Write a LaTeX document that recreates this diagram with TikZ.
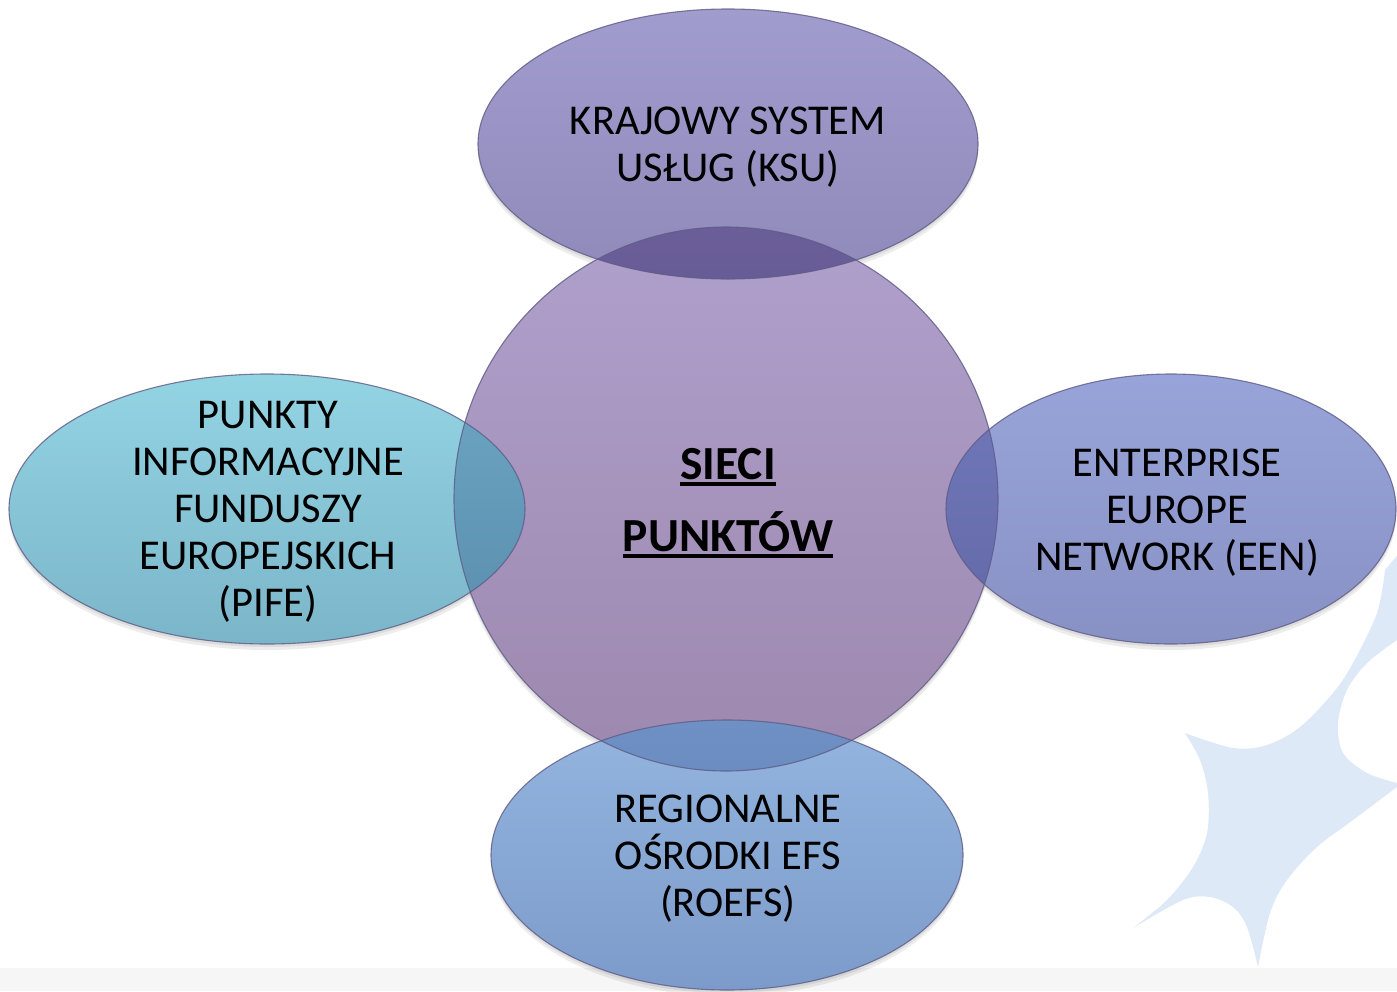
\documentclass[tikz,border=0pt]{standalone}
\usepackage{fontspec}
\setmainfont{Carlito}
\definecolor{topA}{HTML}{A19CCE}
\definecolor{topB}{HTML}{8F8AB9}
\definecolor{cenA}{HTML}{AFA0CC}
\definecolor{cenB}{HTML}{9D88AE}
\definecolor{lefA}{HTML}{93D4E3}
\definecolor{lefB}{HTML}{7BB5C9}
\definecolor{rigA}{HTML}{98A4D9}
\definecolor{rigB}{HTML}{8891C4}
\definecolor{botA}{HTML}{93B5DF}
\definecolor{botB}{HTML}{7D9BCA}
\definecolor{ovTa}{HTML}{7669A8}
\definecolor{ovTb}{HTML}{685C96}
\definecolor{ovLa}{HTML}{6CA6C3}
\definecolor{ovLb}{HTML}{5A8DAD}
\definecolor{ovRa}{HTML}{7279BB}
\definecolor{ovRb}{HTML}{6268A6}
\definecolor{ovBa}{HTML}{6E90C4}
\definecolor{ovBb}{HTML}{5F7FB1}
\definecolor{edgec}{HTML}{5F5B86}
\definecolor{starblue}{HTML}{DDE9F6}
\definecolor{bandgray}{HTML}{F6F6F6}
\newcommand{\barunder}[1]{\setbox0=\hbox{#1}\rlap{\rule[-7pt]{\wd0}{4pt}}\box0}
\tikzset{
  lbl/.style={font=\fontsize{42.5}{47}\selectfont, align=center, inner sep=0pt, text=black},
  mainlbl/.style={font=\fontsize{47.5}{72}\selectfont\bfseries, align=center, inner sep=0pt, text=black},
  shapeedge/.style={draw=edgec, line width=1.1pt, draw opacity=0.8},
  shadowc/.style={fill=black, fill opacity=0.07}
}
\begin{document}
\begin{tikzpicture}[x=1pt,y=-1pt]
\useasboundingbox (0,0) rectangle (1397,991);
\clip (0,0) rectangle (1397,991);
\fill[white] (0,0) rectangle (1397,991);
\fill[bandgray] (0,968) rectangle (1397,991);
% background star
\fill[starblue] plot[smooth,tension=0.55] coordinates {(1185,733) (1233,748) (1267,745) (1300,727) (1333,693) (1353,663) (1377,613) (1385,570)}
  -- (1410,540) -- (1410,640)
  -- plot[smooth,tension=0.55] coordinates {(1397,640) (1367,663) (1347,690) (1338,723) (1343,753) (1367,773) (1397,783)}
  -- plot[smooth,tension=0.55] coordinates {(1397,787) (1353,820) (1317,847) (1287,880) (1270,913) (1258,967)}
  -- plot[smooth,tension=0.55] coordinates {(1258,967) (1247,927) (1233,907) (1210,897) (1183,900) (1133,928)}
  -- plot[smooth,tension=0.55] coordinates {(1133,928) (1167,900) (1193,867) (1207,833) (1208,793) (1200,760) (1185,733)}
  -- cycle;
% centres
\coordinate (cC) at (726,499);
\coordinate (cT) at (728,144);
\coordinate (cL) at (267,509);
\coordinate (cR) at (1171,509);
\coordinate (cB) at (727,855);
% shadows
\foreach \s in {3,6}{
  \fill[shadowc] ([yshift=-\s pt]cC) circle [radius=272pt];
  \fill[shadowc] ([yshift=-\s pt]cT) ellipse [x radius=250pt, y radius=135pt];
  \fill[shadowc] ([yshift=-\s pt]cL) ellipse [x radius=258pt, y radius=135pt];
  \fill[shadowc] ([yshift=-\s pt]cR) ellipse [x radius=225pt, y radius=135pt];
  \fill[shadowc] ([yshift=-\s pt]cB) ellipse [x radius=236pt, y radius=135pt];
}
% fills
\shade[top color=cenA, bottom color=cenB] (cC) circle [radius=272pt];
\shade[top color=topA, bottom color=topB] (cT) ellipse [x radius=250pt, y radius=135pt];
\shade[top color=lefA, bottom color=lefB] (cL) ellipse [x radius=258pt, y radius=135pt];
\shade[top color=rigA, bottom color=rigB] (cR) ellipse [x radius=225pt, y radius=135pt];
\shade[top color=botA, bottom color=botB] (cB) ellipse [x radius=236pt, y radius=135pt];
% overlaps
\begin{scope}
  \clip (cC) circle [radius=272pt];
  \shade[top color=ovTa, bottom color=ovTb] (cT) ellipse [x radius=250pt, y radius=135pt];
  \shade[top color=ovLa, bottom color=ovLb] (cL) ellipse [x radius=258pt, y radius=135pt];
  \shade[top color=ovRa, bottom color=ovRb] (cR) ellipse [x radius=225pt, y radius=135pt];
  \shade[top color=ovBa, bottom color=ovBb] (cB) ellipse [x radius=236pt, y radius=135pt];
\end{scope}
% outlines
\draw[shapeedge] (cC) circle [radius=272pt];
\draw[shapeedge] (cT) ellipse [x radius=250pt, y radius=135pt];
\draw[shapeedge] (cL) ellipse [x radius=258pt, y radius=135pt];
\draw[shapeedge] (cR) ellipse [x radius=225pt, y radius=135pt];
\draw[shapeedge] (cB) ellipse [x radius=236pt, y radius=135pt];
% texts
\node[lbl] (tKSU) at (728,147.5) {KRAJOWY SYSTEM\\USŁUG (KSU)};
\node[lbl] (tPIFE) at (268,512) {PUNKTY\\INFORMACYJNE\\FUNDUSZY\\EUROPEJSKICH\\(PIFE)};
\node[lbl] (tEEN) at (1177,513) {ENTERPRISE\\EUROPE\\NETWORK (EEN)};
\node[lbl] (tROEFS) at (728,858.5) {REGIONALNE\\OŚRODKI EFS\\(ROEFS)};
\node[mainlbl] (tMain) at (728,503) {\barunder{SIECI}\\\barunder{PUNKTÓW}};
\end{tikzpicture}
\end{document}
